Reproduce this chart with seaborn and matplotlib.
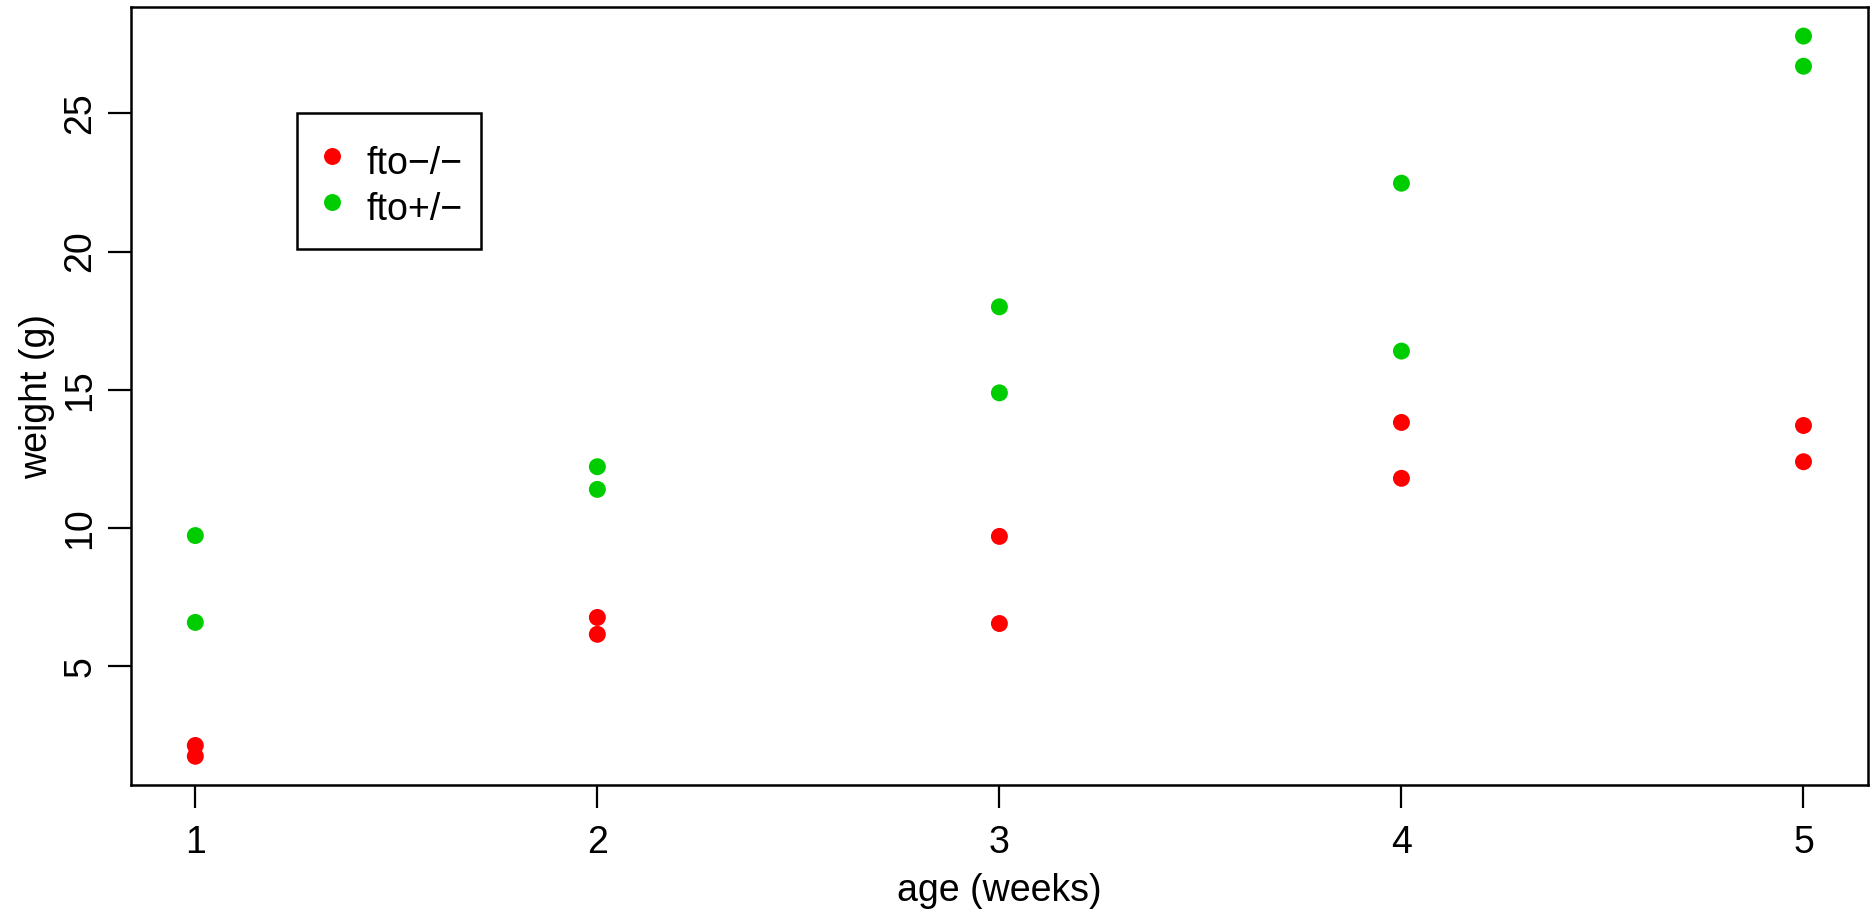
import pandas as pd
import matplotlib.pyplot as plt
from matplotlib.lines import Line2D
import seaborn as sns

# Weight of mice by age, two genotypes
weeks = [1, 1, 2, 2, 3, 3, 4, 4, 5, 5]
ko_weight = [1.75, 2.14, 6.16, 6.77, 6.55, 9.70, 11.80, 13.82, 12.40, 13.71]
het_weight = [6.59, 9.73, 11.40, 12.22, 14.89, 18.00, 16.40, 22.47, 26.70, 27.79]
genotypes = ['fto\u2212/\u2212', 'fto+/\u2212']
colors = ['#FF0000', '#00CD00']

df = pd.DataFrame({
    'age': weeks + weeks,
    'weight': ko_weight + het_weight,
    'genotype': [genotypes[0]] * len(weeks) + [genotypes[1]] * len(weeks),
})

sns.set_style('white')
plt.rcParams['font.family'] = ['Liberation Sans', 'DejaVu Sans']
plt.rcParams.update({'text.color': 'black', 'axes.labelcolor': 'black'})

fig = plt.figure(figsize=(18.74, 9.14), dpi=100)
ax = fig.add_axes([0.0699, 0.1411, 0.9268, 0.8512])

sns.scatterplot(data=df, x='age', y='weight', hue='genotype',
                palette=dict(zip(genotypes, colors)),
                s=149, linewidth=0, legend=False, ax=ax)

ax.set_xlim(0.84, 5.16)
ax.set_ylim(0.71, 28.84)
ax.set_xticks([1, 2, 3, 4, 5])
ax.set_yticks([5, 10, 15, 20, 25])
for lab in ax.get_yticklabels():
    lab.set_rotation(90)
    lab.set_va('center')

ax.tick_params(axis='both', length=16.5, width=1.6, labelsize=27,
               colors='black', direction='out', left=True, bottom=True)
ax.tick_params(axis='x', pad=12)
ax.tick_params(axis='y', pad=7)
for sp in ax.spines.values():
    sp.set_linewidth(1.8)
    sp.set_color('black')

ax.set_xlabel('age (weeks)', fontsize=27, labelpad=9)
ax.set_ylabel('weight (g)', fontsize=27, labelpad=5)

# blank title just adds a little room above the first row
handles = [Line2D([], [], marker='o', linestyle='none', markersize=12.2,
                  markerfacecolor=c, markeredgewidth=0) for c in colors]
leg = ax.legend(handles, genotypes, loc='upper left',
                bbox_to_anchor=(0.0956, 0.864), fontsize=27,
                title=' ', title_fontsize=5,
                frameon=True, fancybox=False, framealpha=1,
                borderpad=0.5, labelspacing=0.0, handlelength=0.89,
                handleheight=1.5, handletextpad=0.45, borderaxespad=0)
leg.get_frame().set_edgecolor('black')
leg.get_frame().set_linewidth(1.8)

plt.savefig('out.png', dpi=100)
